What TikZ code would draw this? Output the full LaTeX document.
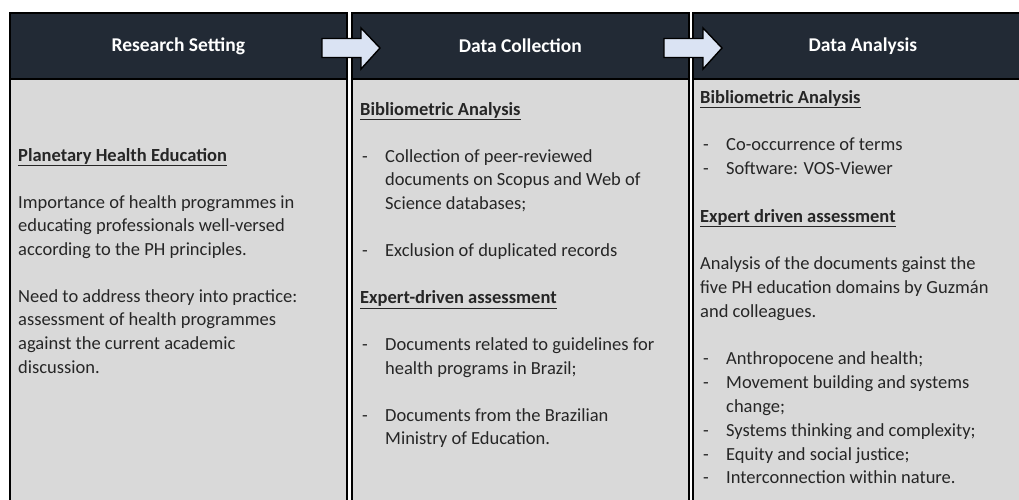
\documentclass[tikz,border=0pt]{standalone}
\usepackage{fontspec}
\setmainfont{Carlito}
\definecolor{hdr}{HTML}{222A35}
\definecolor{bodyg}{HTML}{D9D9D9}
\definecolor{arrowc}{HTML}{DAE3F3}
\definecolor{txtc}{HTML}{262626}
\tikzset{
 colbox/.style={draw=black, line width=1.6pt, fill=bodyg, anchor=north west, inner sep=0pt},
 hdrbox/.style={draw=black, line width=1.6pt, fill=hdr, anchor=north west, inner sep=0pt,
   text=white, font=\fontsize{19.5}{23}\selectfont\bfseries},
 txt/.style={anchor=base west, inner sep=0pt, text=txtc, font=\fontsize{18.5}{23.5}\selectfont},
 blockarrow/.style={draw=black, line width=1.4pt, fill=arrowc, line join=miter},
}
\newcommand\putline[4]{\node[txt] (#1) at (#2,#3) {#4};}
\newcommand\putdash[5]{\node[txt] (#1d) at (#2,#4) {-}; \node[txt] (#1) at (#3,#4) {#5};}
\newcommand\puthead[4]{\node[txt] (#1) at (#2,#3) {\bfseries\underline{#4}};}
\begin{document}
\begin{tikzpicture}[x=1pt,y=-1pt]
\useasboundingbox (0,0) rectangle (1019,499);
\clip (0,0) rectangle (1019,499);
% column boxes
\node[colbox, minimum width=337pt, minimum height=510pt] (col1) at (9,12) {};
\node[colbox, minimum width=337pt, minimum height=510pt] (col2) at (351,12) {};
\node[colbox, minimum width=340pt, minimum height=510pt] (col3) at (692,12) {};
% headers
\node[hdrbox, minimum width=337pt, minimum height=66pt] (h1) at (9,12) {Research Setting};
\node[hdrbox, minimum width=337pt, minimum height=66pt] (h2) at (351,12) {Data Collection};
\node[hdrbox, minimum width=340pt, minimum height=66pt] (h3) at (692,12) {Data Analysis};
% block arrows
\coordinate (a1) at (322,48);
\coordinate (a2) at (664,48);
\foreach \a in {a1,a2}{
 \draw[blockarrow] (\a) ++(0,-9.5) -- ++(39,0) -- ++(0,-10.5) -- ++(19,20) -- ++(-19,21) -- ++(0,-11.5) -- ++(-39,0) -- cycle;
}
% column 1
\puthead{c1h}{18}{161}{Planetary Health Education}
\putline{c1a}{18}{208.1}{Importance of health programmes in}
\putline{c1b}{18}{231.7}{educating professionals well-versed}
\putline{c1c}{18}{255.2}{according to the PH principles.}
\putline{c1d}{18}{302.3}{Need to address theory into practice:}
\putline{c1e}{18}{325.9}{assessment of health programmes}
\putline{c1f}{18}{349.4}{against the current academic}
\putline{c1g}{18}{373}{discussion.}
% column 2
\puthead{c2h}{360}{115}{Bibliometric Analysis}
\putdash{c2a}{362}{385}{162.1}{Collection of peer-reviewed}
\putline{c2b}{385}{185.7}{documents on Scopus and Web of}
\putline{c2c}{385}{209.2}{Science databases;}
\putdash{c2d}{362}{385}{256.3}{Exclusion of duplicated records}
\puthead{c2i}{360}{303.4}{Expert-driven assessment}
\putdash{c2e}{362}{385}{350.5}{Documents related to guidelines for}
\putline{c2f}{385}{374.1}{health programs in Brazil;}
\putdash{c2g}{362}{385}{421.2}{Documents from the Brazilian}
\putline{c2k}{385}{444.8}{Ministry of Education.}
% column 3
\puthead{c3h}{700}{103}{Bibliometric Analysis}
\putdash{c3a}{703}{726}{150.6}{Co-occurrence of terms}
\putdash{c3b}{703}{726}{174.4}{Software: VOS-Viewer}
\puthead{c3i}{700}{222}{Expert driven assessment}
\putline{c3c}{700}{269.6}{Analysis of the documents gainst the}
\putline{c3d}{700}{293.4}{five PH education domains by Guzmán}
\putline{c3e}{700}{317.2}{and colleagues.}
\putdash{c3f}{703}{726}{364.8}{Anthropocene and health;}
\putdash{c3g}{703}{726}{388.6}{Movement building and systems}
\putline{c3k}{726}{412.4}{change;}
\putdash{c3l}{703}{726}{436.2}{Systems thinking and complexity;}
\putdash{c3m}{703}{726}{460}{Equity and social justice;}
\putdash{c3n}{703}{726}{483.8}{Interconnection within nature.}
\end{tikzpicture}
\end{document}
